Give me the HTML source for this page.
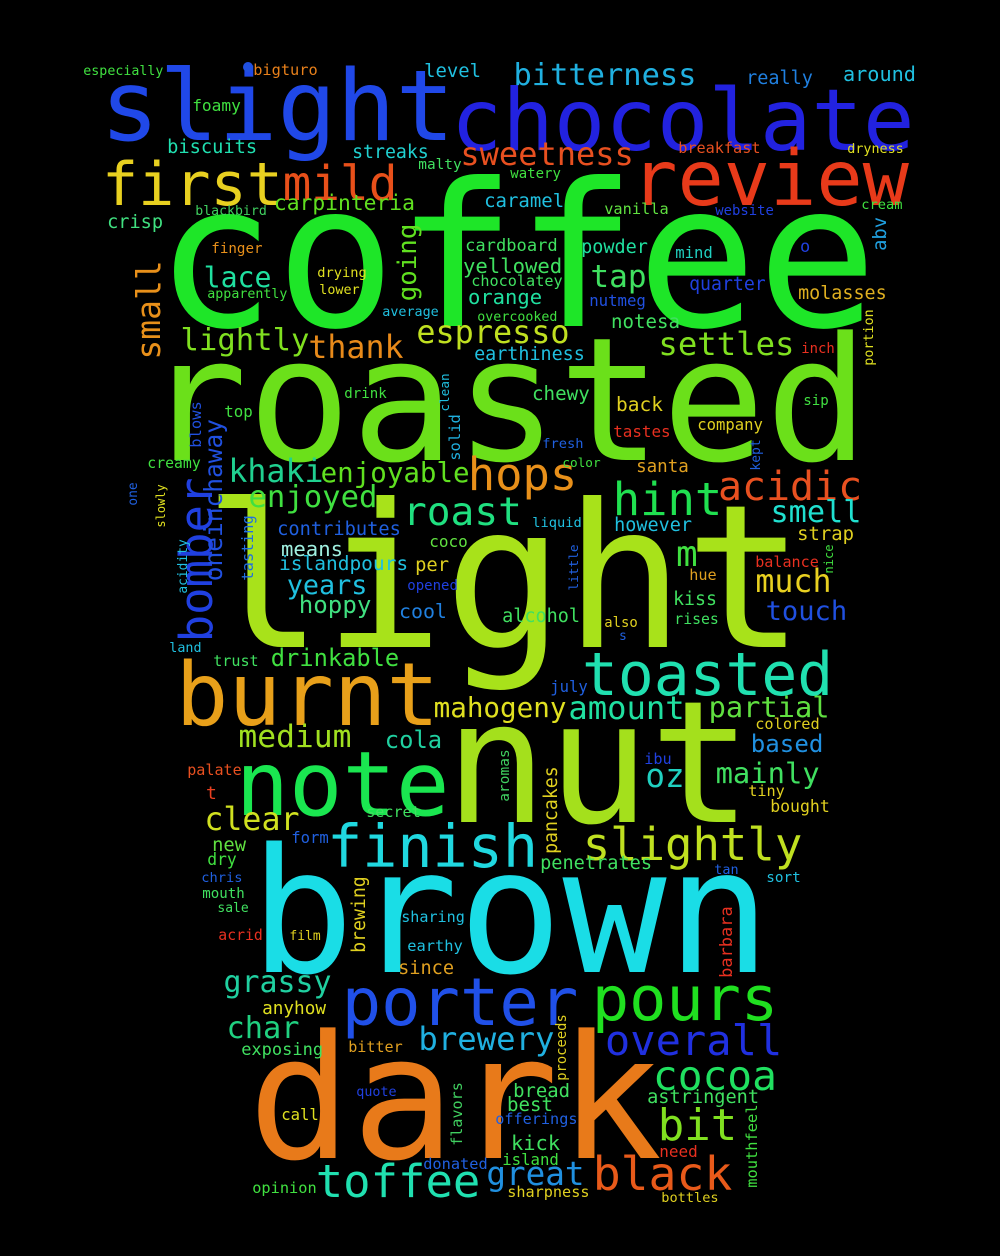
<!DOCTYPE html>
<html><head><meta charset="utf-8"><style>
html,body{margin:0;padding:0;background:#000;}
svg{display:block;}
text{font-family:"DejaVu Sans Mono","Liberation Mono",monospace;}
</style></head><body>
<svg id="cloud" width="1000" height="1256" viewBox="0 0 1000 1256" xmlns="http://www.w3.org/2000/svg">
<rect width="1000" height="1256" fill="#000"/>
<g>
<text x="155" y="326" font-size="200" fill="#1ee628">coffee</text>
<text x="144" y="460" font-size="172" fill="#6be01a">roasted</text>
<text x="203" y="647" font-size="200" fill="#a8e21a">light</text>
<text x="445" y="822" font-size="170" fill="#a4e01c">nut</text>
<text x="250" y="972" font-size="173" fill="#1adde6">brown</text>
<text x="248" y="1158" font-size="172" fill="#e87a1a">dark</text>
<text x="455" y="150" font-size="98" fill="#2222e0" textLength="455">chocolate</text>
<text x="105" y="140" font-size="105" fill="#2048e8" textLength="345">slight</text>
<text x="635" y="205" font-size="82" fill="#e83a1a" textLength="270">review</text>
<text x="105" y="205" font-size="65" fill="#e8d020" textLength="175">first</text>
<text x="285" y="200" font-size="45" fill="#e8501a" textLength="110">mild</text>
<text x="180" y="725" font-size="95" fill="#e8a01a" textLength="255">burnt</text>
<text x="240" y="815" font-size="100" fill="#1ae650" textLength="205">note</text>
<text x="345" y="1025" font-size="80" fill="#2050e8" textLength="230">porter</text>
<text x="595" y="1020" font-size="75" fill="#20e020" textLength="180">pours</text>
<text x="330" y="867" font-size="65" fill="#20d8e0" textLength="205">finish</text>
<text x="585" y="860" font-size="55" fill="#c0e020" textLength="215">slightly</text>
<text x="585" y="695" font-size="65" fill="#20e0b0" textLength="245">toasted</text>
<text x="615" y="515" font-size="50" fill="#20e050" textLength="105">hint</text>
<text x="720" y="500" font-size="45" fill="#e85020" textLength="140">acidic</text>
<text x="470" y="490" font-size="50" fill="#e8901a" textLength="105">hops</text>
<text x="405" y="525" font-size="45" fill="#20e080" textLength="115">roast</text>
<text x="212" y="640" font-size="45" fill="#2040e0" textLength="160" transform="rotate(-90 212 640)">bomber</text>
<text x="607" y="1055" font-size="48" fill="#2030e0" textLength="173">overall</text>
<text x="655" y="1090" font-size="45" fill="#20e060" textLength="120">cocoa</text>
<text x="660" y="1140" font-size="50" fill="#80e020" textLength="75">bit</text>
<text x="595" y="1190" font-size="55" fill="#e85a1a" textLength="135">black</text>
<text x="318" y="1197" font-size="50" fill="#20e0b0" textLength="160">toffee</text>
<text x="488" y="1185" font-size="38" fill="#2090e0" textLength="95">great</text>
<text x="420" y="1050" font-size="33" fill="#20b0e0" textLength="133">brewery</text>
<text x="228" y="1038" font-size="32" fill="#20d080" textLength="70">char</text>
<text x="225" y="992" font-size="32" fill="#20d0a0" textLength="105">grassy</text>
<text x="462" y="165" font-size="32" fill="#e85020" textLength="170">sweetness</text>
<text x="515" y="85" font-size="30" fill="#20b0e0" textLength="180">bitterness</text>
<text x="418" y="343" font-size="32" fill="#c0e020" textLength="150">espresso</text>
<text x="310" y="358" font-size="32" fill="#e88a1a" textLength="92">thank</text>
<text x="182" y="350" font-size="30" fill="#80e020" textLength="126">lightly</text>
<text x="660" y="355" font-size="32" fill="#80e020" textLength="133">settles</text>
<text x="160" y="358" font-size="35" fill="#e8901a" textLength="96" transform="rotate(-90 160 358)">small</text>
<text x="205" y="287" font-size="30" fill="#20e0a0" textLength="65">lace</text>
<text x="592" y="287" font-size="32" fill="#40e060" textLength="53">tap</text>
<text x="230" y="482" font-size="30" fill="#20d090" textLength="92">khaki</text>
<text x="322" y="482" font-size="28" fill="#60e020" textLength="146">enjoyable</text>
<text x="250" y="507" font-size="25" fill="#40e040" textLength="126">enjoyed</text>
<text x="416" y="300" font-size="25" fill="#60e020" textLength="75" transform="rotate(-90 416 300)">going</text>
<text x="772" y="522" font-size="30" fill="#20e0d0" textLength="88">smell</text>
<text x="676" y="566" font-size="36" fill="#40e040">m</text>
<text x="757" y="592" font-size="30" fill="#e8d020" textLength="73">much</text>
<text x="767" y="620" font-size="27" fill="#2050e0" textLength="79">touch</text>
<text x="288" y="594" font-size="27" fill="#20c0e0" textLength="78">years</text>
<text x="282" y="556" font-size="20" fill="#a0f0e0" textLength="60">means</text>
<text x="300" y="613" font-size="24" fill="#40e080" textLength="70">hoppy</text>
<text x="222" y="580" font-size="22" fill="#2050e0" textLength="160" transform="rotate(-90 222 580)">oneinchaway</text>
<text x="278" y="535" font-size="18" fill="#2060e0" textLength="122">contributes</text>
<text x="570" y="719" font-size="32" fill="#20e0a0" textLength="113">amount</text>
<text x="710" y="717" font-size="30" fill="#60e040" textLength="118">partial</text>
<text x="435" y="717" font-size="27" fill="#e0e020" textLength="130">mahogeny</text>
<text x="240" y="747" font-size="30" fill="#a0e020" textLength="110">medium</text>
<text x="717" y="783" font-size="30" fill="#40e060" textLength="101">mainly</text>
<text x="647" y="787" font-size="28" fill="#20d0c0" textLength="36">oz</text>
<text x="272" y="666" font-size="25" fill="#40e040" textLength="126">drinkable</text>
<text x="386" y="748" font-size="25" fill="#20d0a0" textLength="55">cola</text>
<text x="206" y="830" font-size="32" fill="#d0e020" textLength="92">clear</text>
<text x="752" y="752" font-size="22" fill="#2090e0" textLength="70">based</text>
<text x="400" y="618" font-size="20" fill="#2080e0" textLength="46">cool</text>
<text x="503" y="622" font-size="20" fill="#40e060" textLength="76">alcohol</text>
<text x="674" y="605" font-size="18" fill="#40e060" textLength="42">kiss</text>
<text x="675" y="624" font-size="15" fill="#40e060" textLength="43">rises</text>
<text x="416" y="571" font-size="18" fill="#e0d020" textLength="32">per</text>
<text x="280" y="570" font-size="15" fill="#20c0e0" textLength="127">islandpours</text>
<text x="464" y="273" font-size="20" fill="#40e060" textLength="97">yellowed</text>
<text x="466" y="251" font-size="17" fill="#40e060" textLength="91">cardboard</text>
<text x="469" y="304" font-size="20" fill="#20e0a0" textLength="72">orange</text>
<text x="485" y="207" font-size="18" fill="#20c0e0" textLength="78">caramel</text>
<text x="353" y="158" font-size="18" fill="#20d0d0" textLength="75">streaks</text>
<text x="168" y="153" font-size="18" fill="#20e0b0" textLength="88">biscuits</text>
<text x="108" y="228" font-size="18" fill="#40e080" textLength="54">crisp</text>
<text x="212" y="253" font-size="17" fill="#e8901a" textLength="50">finger</text>
<text x="196" y="215" font-size="14" fill="#40d060" textLength="70">blackbird</text>
<text x="275" y="210" font-size="16" fill="#60e020" textLength="139">carpinteria</text>
<text x="425" y="77" font-size="18" fill="#20c0e0" textLength="55">level</text>
<text x="747" y="84" font-size="18" fill="#2080e0" textLength="65">really</text>
<text x="844" y="81" font-size="20" fill="#20c0e0" textLength="71">around</text>
<text x="84" y="75" font-size="13" fill="#40e040" textLength="79">especially</text>
<circle cx="248" cy="67" r="5" fill="#2050e0"/>
<text x="254" y="75" font-size="14" fill="#e8801a" textLength="63">bigturo</text>
<text x="193" y="111" font-size="15" fill="#40e040" textLength="47">foamy</text>
<text x="419" y="169" font-size="13" fill="#40e060" textLength="42">malty</text>
<text x="511" y="178" font-size="13" fill="#40e040" textLength="49">watery</text>
<text x="679" y="153" font-size="15" fill="#e85020" textLength="81">breakfast</text>
<text x="848" y="153" font-size="14" fill="#e0e020" textLength="55">dryness</text>
<text x="862" y="209" font-size="12" fill="#40e040" textLength="40">cream</text>
<text x="605" y="214" font-size="15" fill="#60e040" textLength="63">vanilla</text>
<text x="716" y="215" font-size="13" fill="#2040e0" textLength="57">website</text>
<text x="886" y="250" font-size="16" fill="#20a0e0" textLength="32" transform="rotate(-90 886 250)">abv</text>
<text x="800" y="252" font-size="17" fill="#2040e0">o</text>
<text x="582" y="253" font-size="17" fill="#20e0a0" textLength="65">powder</text>
<text x="676" y="258" font-size="15" fill="#20d0c0" textLength="36">mind</text>
<text x="690" y="290" font-size="17" fill="#2040e0" textLength="75">quarter</text>
<text x="799" y="299" font-size="16" fill="#e0b020" textLength="87">molasses</text>
<text x="590" y="306" font-size="14" fill="#2050e0" textLength="55">nutmeg</text>
<text x="612" y="328" font-size="16" fill="#40e060" textLength="67">notesa</text>
<text x="478" y="321" font-size="13" fill="#40e040" textLength="79">overcooked</text>
<text x="383" y="316" font-size="12" fill="#20c0e0" textLength="55">average</text>
<text x="472" y="286" font-size="13" fill="#40e060" textLength="90">chocolatey</text>
<text x="318" y="277" font-size="13" fill="#e0e020" textLength="48">drying</text>
<text x="320" y="294" font-size="12" fill="#e0e020" textLength="39">lower</text>
<text x="208" y="298" font-size="13" fill="#40e040" textLength="79">apparently</text>
<text x="873" y="365" font-size="12" fill="#e0e020" textLength="55" transform="rotate(-90 873 365)">portion</text>
<text x="802" y="353" font-size="13" fill="#e83020" textLength="32">inch</text>
<text x="475" y="360" font-size="17" fill="#20c0e0" textLength="109">earthiness</text>
<text x="449" y="411" font-size="13" fill="#20c0e0" textLength="37" transform="rotate(-90 449 411)">clean</text>
<text x="460" y="460" font-size="13" fill="#20b0e0" textLength="45" transform="rotate(-90 460 460)">solid</text>
<text x="345" y="398" font-size="13" fill="#40e040" textLength="41">drink</text>
<text x="533" y="400" font-size="18" fill="#40e060" textLength="56">chewy</text>
<text x="617" y="411" font-size="17" fill="#e0d020" textLength="45">back</text>
<text x="804" y="405" font-size="13" fill="#40e040" textLength="24">sip</text>
<text x="225" y="417" font-size="14" fill="#40e040" textLength="27">top</text>
<text x="201" y="447" font-size="13" fill="#2050e0" textLength="45" transform="rotate(-90 201 447)">blows</text>
<text x="698" y="430" font-size="14" fill="#e0d020" textLength="64">company</text>
<text x="614" y="437" font-size="14" fill="#e83020" textLength="56">tastes</text>
<text x="543" y="448" font-size="13" fill="#2060e0" textLength="40">fresh</text>
<text x="760" y="470" font-size="12" fill="#2060e0" textLength="30" transform="rotate(-90 760 470)">kept</text>
<text x="563" y="467" font-size="14" fill="#40e040" textLength="37">color</text>
<text x="148" y="468" font-size="13" fill="#40e040" textLength="52">creamy</text>
<text x="637" y="472" font-size="15" fill="#e0a020" textLength="51">santa</text>
<text x="165" y="527" font-size="13" fill="#e0e020" textLength="42" transform="rotate(-90 165 527)">slowly</text>
<text x="137" y="505" font-size="13" fill="#2060e0" textLength="22" transform="rotate(-90 137 505)">one</text>
<text x="253" y="580" font-size="13" fill="#2070e0" textLength="64" transform="rotate(-90 253 580)">tasting</text>
<text x="533" y="527" font-size="14" fill="#20c0e0" textLength="48">liquid</text>
<text x="615" y="531" font-size="17" fill="#20c0e0" textLength="76">however</text>
<text x="798" y="540" font-size="17" fill="#e0d020" textLength="55">strap</text>
<text x="430" y="547" font-size="13" fill="#60e040" textLength="37">coco</text>
<text x="578" y="590" font-size="13" fill="#2060e0" textLength="45" transform="rotate(-90 578 590)">little</text>
<text x="833" y="573" font-size="13" fill="#40e040" textLength="28" transform="rotate(-90 833 573)">nice</text>
<text x="187" y="593" font-size="13" fill="#20c0e0" textLength="53" transform="rotate(-90 187 593)">acidity</text>
<text x="756" y="567" font-size="14" fill="#e83020" textLength="62">balance</text>
<text x="690" y="580" font-size="13" fill="#e0a020" textLength="26">hue</text>
<text x="408" y="590" font-size="12" fill="#2040e0" textLength="49">opened</text>
<text x="605" y="627" font-size="12" fill="#e0d020" textLength="32">also</text>
<text x="619" y="640" font-size="13" fill="#2060e0">s</text>
<text x="170" y="652" font-size="13" fill="#20c0e0" textLength="31">land</text>
<text x="214" y="666" font-size="14" fill="#40e060" textLength="44">trust</text>
<text x="551" y="692" font-size="14" fill="#2060e0" textLength="36">july</text>
<text x="756" y="729" font-size="14" fill="#e0d020" textLength="63">colored</text>
<text x="645" y="764" font-size="13" fill="#2040e0" textLength="26">ibu</text>
<text x="188" y="775" font-size="14" fill="#e85020" textLength="53">palate</text>
<text x="206" y="799" font-size="18" fill="#e84020">t</text>
<text x="509" y="801" font-size="13" fill="#40d060" textLength="51" transform="rotate(-90 509 801)">aromas</text>
<text x="557" y="853" font-size="15" fill="#e0d020" textLength="86" transform="rotate(-90 557 853)">pancakes</text>
<text x="749" y="796" font-size="14" fill="#e0d020" textLength="35">tiny</text>
<text x="771" y="812" font-size="16" fill="#e0d020" textLength="58">bought</text>
<text x="367" y="817" font-size="14" fill="#40e060" textLength="53">secret</text>
<text x="292" y="843" font-size="14" fill="#2060e0" textLength="36">form</text>
<text x="213" y="851" font-size="16" fill="#60e040" textLength="32">new</text>
<text x="208" y="865" font-size="14" fill="#40e040" textLength="28">dry</text>
<text x="541" y="869" font-size="17" fill="#40e060" textLength="110">penetrates</text>
<text x="202" y="882" font-size="13" fill="#2060e0" textLength="40">chris</text>
<text x="203" y="898" font-size="13" fill="#40e060" textLength="41">mouth</text>
<text x="218" y="912" font-size="13" fill="#40e060" textLength="30">sale</text>
<text x="715" y="874" font-size="13" fill="#2060e0" textLength="23">tan</text>
<text x="767" y="882" font-size="14" fill="#20c0e0" textLength="33">sort</text>
<text x="365" y="952" font-size="15" fill="#e0d020" textLength="75" transform="rotate(-90 365 952)">brewing</text>
<text x="402" y="922" font-size="15" fill="#20c0e0" textLength="62">sharing</text>
<text x="732" y="977" font-size="15" fill="#e83020" textLength="70" transform="rotate(-90 732 977)">barbara</text>
<text x="219" y="940" font-size="14" fill="#e83020" textLength="43">acrid</text>
<text x="290" y="940" font-size="15" fill="#e0d020" textLength="30">film</text>
<text x="408" y="951" font-size="14" fill="#20c0e0" textLength="54">earthy</text>
<text x="399" y="974" font-size="16" fill="#e0a020" textLength="54">since</text>
<text x="263" y="1014" font-size="16" fill="#e0e020" textLength="62">anyhow</text>
<text x="242" y="1055" font-size="16" fill="#40e060" textLength="80">exposing</text>
<text x="349" y="1052" font-size="14" fill="#e0a020" textLength="53">bitter</text>
<text x="566" y="1080" font-size="13" fill="#e0d020" textLength="65" transform="rotate(-90 566 1080)">proceeds</text>
<text x="357" y="1096" font-size="13" fill="#2040e0" textLength="39">quote</text>
<text x="514" y="1097" font-size="18" fill="#40e060" textLength="55">bread</text>
<text x="462" y="1145" font-size="15" fill="#40d060" textLength="62" transform="rotate(-90 462 1145)">flavors</text>
<text x="648" y="1103" font-size="17" fill="#40e060" textLength="110">astringent</text>
<text x="508" y="1111" font-size="17" fill="#40e060" textLength="44">best</text>
<text x="757" y="1187" font-size="14" fill="#40e040" textLength="82" transform="rotate(-90 757 1187)">mouthfeel</text>
<text x="282" y="1120" font-size="16" fill="#e0e020" textLength="36">call</text>
<text x="496" y="1124" font-size="15" fill="#2060e0" textLength="81">offerings</text>
<text x="512" y="1150" font-size="18" fill="#40e060" textLength="47">kick</text>
<text x="503" y="1165" font-size="15" fill="#40e040" textLength="55">island</text>
<text x="660" y="1157" font-size="14" fill="#e83020" textLength="37">need</text>
<text x="424" y="1169" font-size="14" fill="#2060e0" textLength="63">donated</text>
<text x="253" y="1193" font-size="14" fill="#40e040" textLength="63">opinion</text>
<text x="508" y="1197" font-size="14" fill="#e0d020" textLength="81">sharpness</text>
<text x="662" y="1202" font-size="13" fill="#e0d020" textLength="56">bottles</text>
</g>
</svg>
<script>
// Monospace fitting: derive font size from measured ink width, then shift left by side bearing.
var texts = document.querySelectorAll('#cloud text[textLength]');
texts.forEach(function (t) {
  var w = parseFloat(t.getAttribute('textLength'));
  var n = t.textContent.length;
  var size = w / (0.602 * n - 0.1);
  t.setAttribute('font-size', size.toFixed(1));
  t.removeAttribute('textLength');
  var tr = t.getAttribute('transform');
  var shift = 0.05 * size;
  if (tr) {
    t.setAttribute('y', (parseFloat(t.getAttribute('y')) + shift).toFixed(1));
    var x = t.getAttribute('x'), y = t.getAttribute('y');
    t.setAttribute('transform', 'rotate(-90 ' + x + ' ' + y + ')');
  } else {
    t.setAttribute('x', (parseFloat(t.getAttribute('x')) - shift).toFixed(1));
  }
});
</script>
</body></html>
